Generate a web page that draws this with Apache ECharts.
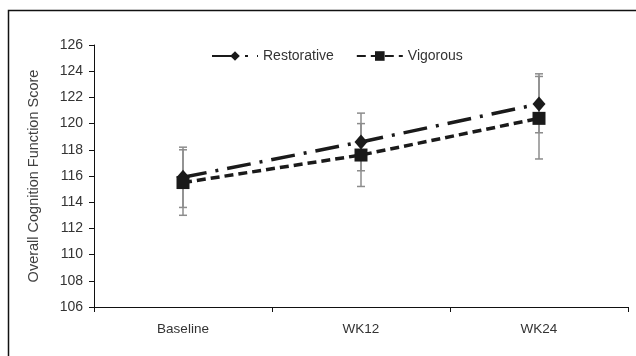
<!DOCTYPE html>
<html>
<head>
<meta charset="utf-8">
<script src="https://cdn.jsdelivr.net/npm/echarts@6/dist/echarts.min.js"></script>
<style>html,body{margin:0;padding:0;background:#fff}#c{width:636px;height:356px}</style>
</head>
<body>
<div id="c"></div>
<script>
const categories = ['Baseline', 'WK12', 'WK24'];
const yTicks = [106, 108, 110, 112, 114, 116, 118, 120, 122, 124, 126];
const restorative = [115.9, 118.6, 121.5];
const restorativeLow = [113.6, 116.4, 119.3];
const restorativeHigh = [118.2, 120.8, 123.8];
const vigorous = [115.5, 117.6, 120.4];
const vigorousLow = [113.0, 115.2, 117.3];
const vigorousHigh = [118.0, 120.0, 123.6];

const FONT = 'Liberation Sans';
const chart = echarts.init(document.getElementById('c'), null, {renderer: 'canvas'});

function errRender(params, api) {
  const x = api.value(0);
  const lo = api.coord([x, api.value(1)]);
  const hi = api.coord([x, api.value(2)]);
  const w = 4;
  const st = {stroke: '#8c8c8c', lineWidth: 1.5};
  return {
    type: 'group',
    children: [
      {type: 'line', shape: {x1: lo[0], y1: lo[1], x2: hi[0], y2: hi[1]}, style: st},
      {type: 'line', shape: {x1: lo[0] - w, y1: lo[1], x2: lo[0] + w, y2: lo[1]}, style: st},
      {type: 'line', shape: {x1: hi[0] - w, y1: hi[1], x2: hi[0] + w, y2: hi[1]}, style: st}
    ]
  };
}

const option = {
  animation: false,
  backgroundColor: '#fff',
  textStyle: {fontFamily: FONT},
  graphic: [{
    type: 'rect', silent: true, z: 100,
    shape: {x: 8.5, y: 10.5, width: 800, height: 800},
    style: {fill: 'none', stroke: '#111', lineWidth: 1.5}
  }],
  legend: {
    left: 206, top: 44,
    itemWidth: 46, itemHeight: 12, itemGap: 22,
    textStyle: {fontFamily: FONT, fontSize: 14, color: '#333'},
    data: ['Restorative', 'Vigorous']
  },
  grid: {left: 94, right: 8, top: 45, bottom: 49, containLabel: false},
  xAxis: {
    type: 'category', data: categories,
    axisLine: {lineStyle: {color: '#111', width: 1}},
    axisTick: {show: true, length: 5, lineStyle: {color: '#111'}},
    axisLabel: {fontFamily: FONT, fontSize: 13.5, color: '#333', margin: 15}
  },
  yAxis: {
    type: 'value', min: yTicks[0], max: yTicks[yTicks.length - 1], interval: 2,
    name: 'Overall Cognition Function Score', nameLocation: 'middle', nameGap: 53,
    nameTextStyle: {fontFamily: FONT, fontSize: 14.5, color: '#404040'},
    axisLine: {show: true, lineStyle: {color: '#111', width: 1}},
    axisTick: {show: true, length: 5, lineStyle: {color: '#111'}},
    axisLabel: {fontFamily: FONT, fontSize: 14, color: '#333', margin: 11},
    splitLine: {show: false}
  },
  series: [
    {
      type: 'custom', name: 'errR', renderItem: errRender, z: 1,
      data: categories.map((c, i) => [i, restorativeLow[i], restorativeHigh[i]]),
      encode: {x: 0, y: [1, 2]}, silent: true
    },
    {
      type: 'custom', name: 'errV', renderItem: errRender, z: 1,
      data: categories.map((c, i) => [i, vigorousLow[i], vigorousHigh[i]]),
      encode: {x: 0, y: [1, 2]}, silent: true
    },
    {
      type: 'line', name: 'Restorative', data: restorative, z: 3,
      symbol: 'diamond', symbolSize: [13, 15],
      itemStyle: {color: '#1a1a1a'},
      lineStyle: {color: '#1a1a1a', width: 3.5, type: [24, 9, 3, 9]}
    },
    {
      type: 'line', name: 'Vigorous', data: vigorous, z: 3,
      symbol: 'rect', symbolSize: 13,
      itemStyle: {color: '#1a1a1a'},
      lineStyle: {color: '#1a1a1a', width: 3.5, type: [9, 5]}
    }
  ]
};
chart.setOption(option);
</script>
</body>
</html>
